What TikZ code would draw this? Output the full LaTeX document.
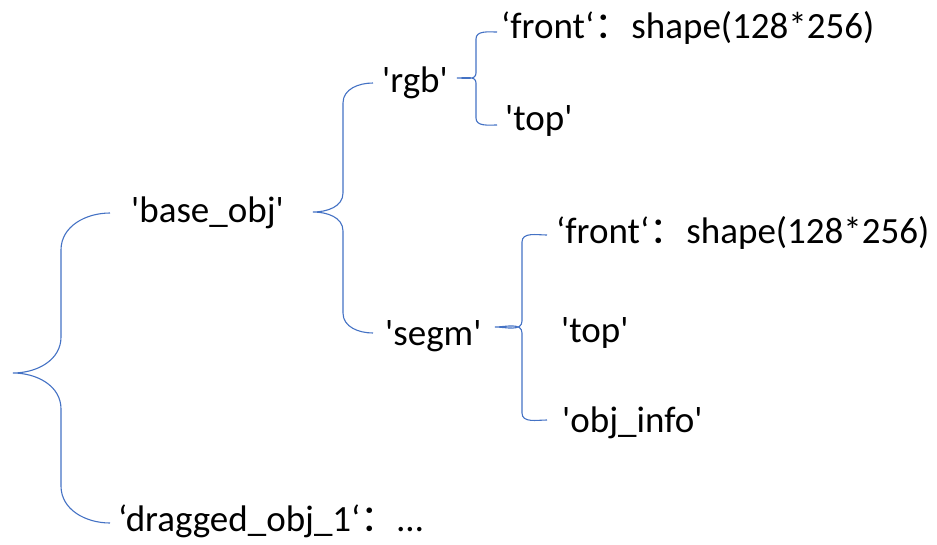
\documentclass[tikz,border=0pt]{standalone}
\usepackage{fontspec}
\newfontfamily\calfont{Carlito}
\newfontfamily\cjk{Noto Sans CJK SC}
\newcommand\fwcolon{{\cjk ：}}
\begin{document}
\begin{tikzpicture}[x=1pt,y=-1pt]
\definecolor{bluebrace}{RGB}{68,114,196}
\tikzset{
  lbl/.style={anchor=base west,inner sep=0pt,font=\calfont\fontsize{37}{40}\selectfont},
  brc/.style={draw=bluebrace,line width=1.1pt}}
\useasboundingbox (0,0) rectangle (937,544);
% labels
\node[lbl] (base) at (131,222) {'base\_obj'};
\node[lbl] (drag) at (118,531) {‘dragged\_obj\_1‘\fwcolon…};
\node[lbl] (rgb) at (382,92) {'rgb'};
\node[lbl] (segm) at (385,345) {'segm'};
\node[lbl] (rfront) at (501,38) {‘front‘\fwcolon shape(128*256)};
\node[lbl] (rtop) at (505,130) {'top'};
\node[lbl] (sfront) at (556,243) {‘front‘\fwcolon shape(128*256)};
\node[lbl] (stop) at (561,342) {'top'};
\node[lbl] (sinfo) at (562,432) {'obj\_info'};
% brace anchor points
\coordinate (b1t) at (110,213);
\coordinate (b1b) at (110,523);
\coordinate (b1m) at (13,373);
\coordinate (b2t) at (373,83);
\coordinate (b2b) at (373,333);
\coordinate (b2m) at (313,212);
\coordinate (b3t) at (497,32);
\coordinate (b3b) at (497,125);
\coordinate (b3m) at (457,78);
\coordinate (b4t) at (547,235);
\coordinate (b4b) at (547,420);
\coordinate (b4m) at (495,327);
% braces
\draw[brc] (b1t) to[out=180,in=90] (61,250) -- (61,337) to[out=-90,in=0] (b1m)
  to[out=0,in=90] (61,409) -- (61,486) to[out=-90,in=180] (b1b);
\draw[brc] (b2t) to[out=180,in=90] (343,103) -- (343,193) to[out=-90,in=0] (b2m)
  to[out=0,in=90] (343,231) -- (343,313) to[out=-90,in=180] (b2b);
\draw[brc] (b3t) to[out=180,in=90] (476,39) -- (476,73) to[out=-90,in=0] (b3m)
  to[out=0,in=90] (476,83) -- (476,118) to[out=-90,in=180] (b3b);
\draw[brc] (b4t) to[out=180,in=90] (522,242) -- (522,321) to[out=-90,in=0] (b4m)
  to[out=0,in=90] (522,333) -- (522,413) to[out=-90,in=180] (b4b);
\end{tikzpicture}
\end{document}
